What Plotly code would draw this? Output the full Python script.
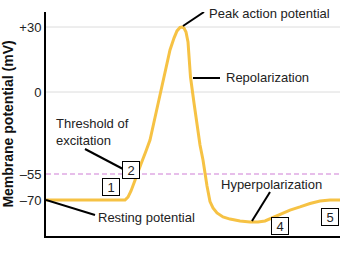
import numpy as np
import plotly.graph_objects as go

# ---------------- data ----------------
time = [0, 79, 82, 85, 88, 91, 95, 100, 104, 109, 114, 119, 124, 128, 131, 134, 136, 138,
        140, 142, 143.5, 144.5, 148, 151, 154, 157, 159, 161, 164, 167, 171, 177, 184, 194,
        204, 212, 219, 226, 234, 244, 254, 264, 274, 284, 294]
potential = [-70, -70, -68.3, -64.8, -60.2, -55, -48.3, -39.6, -32.2, -17.1, -2, 9, 19.4,
             24.9, 28.2, 29.8, 30, 29.5, 27.7, 23.1, 14.8, 6.9, -7.4, -22.1, -35.6, -45.6,
             -55, -61.9, -70.9, -74.6, -77.5, -79.8, -81, -82.1, -82.7, -82.7, -82.1, -80.4,
             -78.1, -75.8, -74, -72, -70.6, -70, -70]
tick_mv = [30, 0, -55, -70]
tick_text = ["+30", "0", "\u201355", "\u201370"]
threshold_mv = -55
grid_mv = [30, 0]

# schematic (non-uniform) voltage axis: mV -> display units
map_mv = [-100, -70, -55, 0, 30, 40]
map_disp = [-16, 36, 62, 144, 209, 230.7]


def disp(v):
    return np.interp(v, map_mv, map_disp)


# pixel helpers for label placement (plot area: x 46..340, y 12..236)
def X(px):
    return px - 46


def Y(py):
    return 236 - py


ORANGE = "#f6c244"
FONT = "Liberation Sans, Arial, sans-serif"
FS = 13

fig = go.Figure()
fig.add_trace(go.Scatter(x=time, y=disp(potential), mode="lines",
                         line=dict(color=ORANGE, width=3), hoverinfo="skip",
                         showlegend=False))

for g in grid_mv:
    fig.add_hline(y=float(disp(g)), line=dict(color="#dcdcdc", width=1), layer="below")
fig.add_hline(y=float(disp(threshold_mv)), line=dict(color="#cf7fd6", width=1.2, dash="5px,3px"),
              layer="below")

# leader lines
leaders = [
    ((183, 26), (204, 12)),      # peak
    ((193, 78), (220, 78)),      # repolarization
    ((85, 149), (123, 169)),     # threshold
    ((46, 200), (95, 215)),      # resting
    ((270, 192), (252, 221)),    # hyperpolarization
]
for (a, b) in leaders:
    fig.add_shape(type="line", xref="x", yref="y", x0=X(a[0]), y0=Y(a[1]),
                  x1=X(b[0]), y1=Y(b[1]), line=dict(color="black", width=2))

labels = [
    ("Peak action potential", 207, 13),
    ("Repolarization", 224, 77),
    ("Threshold of<br>excitation", 54, 132),
    ("Resting potential", 96, 217),
    ("Hyperpolarization", 219, 184),
]
for text, px, py in labels:
    fig.add_annotation(text=text, x=X(px), y=Y(py), xref="x", yref="y", showarrow=False,
                       xanchor="left", yanchor="middle", align="left",
                       font=dict(family=FONT, size=FS, color="#222"))

boxes = [("1", 111, 187), ("2", 131, 170), ("3", 180, 9), ("4", 280, 226), ("5", 330, 217)]
for text, px, py in boxes:
    fig.add_annotation(text=text, x=X(px), y=Y(py), xref="x", yref="y", showarrow=False,
                       xanchor="center", yanchor="middle", bgcolor="white",
                       bordercolor="black", borderwidth=1, borderpad=1, width=14, height=14,
                       font=dict(family=FONT, size=FS, color="#222"))

fig.add_annotation(text="<b>Time</b>", x=X(207), y=Y(247), xref="x", yref="y",
                   showarrow=False, xanchor="center", yanchor="middle",
                   font=dict(family=FONT, size=FS, color="#111"))

fig.update_layout(
    width=340, height=254,
    margin=dict(l=46, r=0, t=12, b=18),
    plot_bgcolor="white", paper_bgcolor="white",
    font=dict(family=FONT, size=FS, color="#222"),
    xaxis=dict(range=[0, 294], showline=True, linecolor="black", linewidth=2,
               showticklabels=False, showgrid=False, zeroline=False, ticks=""),
    yaxis=dict(range=[0, 224], showline=True, linecolor="black", linewidth=2,
               tickvals=[float(v) for v in disp(tick_mv)], ticktext=tick_text,
               showgrid=False, zeroline=False, ticks="",
               tickfont=dict(family=FONT, size=FS, color="#222"),
               title=dict(text="<b>Membrane potential (mV)</b>", standoff=4,
                          font=dict(family=FONT, size=14, color="#111"))),
)

fig.write_html("out.html")
